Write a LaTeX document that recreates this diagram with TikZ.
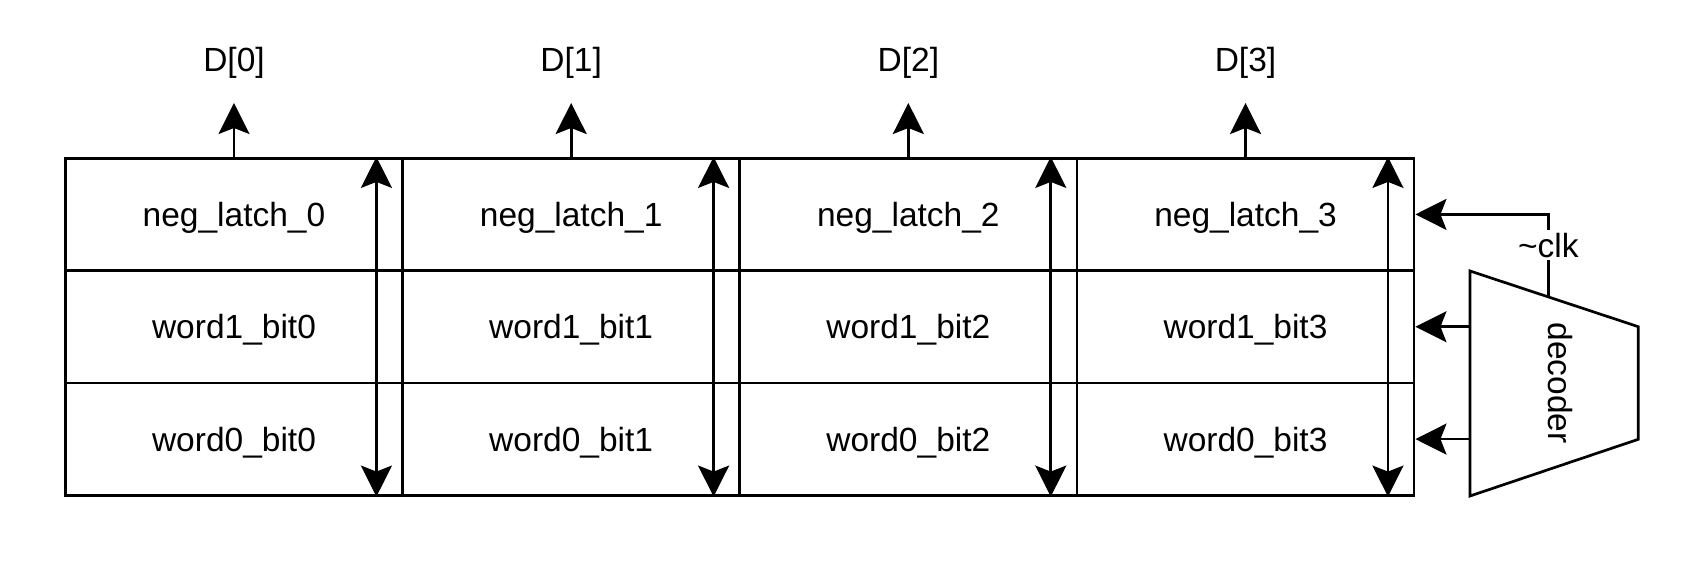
\documentclass[tikz,border=0pt]{standalone}
\usepackage{fontspec}
\setmainfont{Liberation Sans}
\usetikzlibrary{arrows.meta,calc}
\begin{document}
\begin{tikzpicture}[x=1pt,y=1pt,
  lw/.style={line width=2.7pt},
  txt/.style={font=\fontsize{33.5}{40}\selectfont, text depth=0pt},
  cell/.style={draw, lw, txt, minimum width=337.175pt, minimum height=112.3pt, inner sep=0pt},
  arr/.style={lw, -{Stealth[length=31pt,width=31pt,inset=6pt]}},
  darr/.style={lw, {Stealth[length=31pt,width=31pt,inset=6pt]}-{Stealth[length=31pt,width=31pt,inset=6pt]}},
  lab/.style={txt, inner sep=0pt}
]
\useasboundingbox (0,0) rectangle (1681,-567);
\foreach \i in {0,...,3} {
  \pgfmathsetmacro\cx{65.4+337.175*(\i+0.5)}
  \node[cell] (nl\i) at (\cx,-214.4) {neg\_latch\_\i};
  \node[cell] (wa\i) at (\cx,-326.75) {word1\_bit\i};
  \node[cell] (wb\i) at (\cx,-439.1) {word0\_bit\i};
  \node[lab] (d\i) at (\cx,-59) {D[\i]};
  \coordinate (dt\i) at (\cx,-103);
  \draw[arr] (nl\i.north) -- (dt\i);
  \coordinate (vt\i) at ($(nl\i.north east)+(-27.5,0)$);
  \coordinate (vb\i) at ($(wb\i.south east)+(-27.5,0)$);
  \draw[darr] (vt\i) -- (vb\i);
}
% decoder
\coordinate (dtl) at (1470,-271);
\coordinate (dtr) at (1638.3,-326.7);
\coordinate (dbr) at (1638.3,-439.3);
\coordinate (dbl) at (1470,-496);
\draw[lw, line join=miter] (dtl) -- (dtr) -- (dbr) -- (dbl) -- cycle;
\node[lab, rotate=-90] (dec) at (1561,-383) {decoder};
\draw[arr] (wa3.east -| dtl) -- (wa3.east);
\draw[arr] (wb3.east -| dtl) -- (wb3.east);
\coordinate (clk0) at ($(dtl)!0.465!(dtr)$);
\draw[arr] (clk0) |- (nl3.east);
\node[lab, fill=white, inner sep=3pt] (clk) at (clk0 |- 0,-245) {\textasciitilde clk};
\end{tikzpicture}
\end{document}
